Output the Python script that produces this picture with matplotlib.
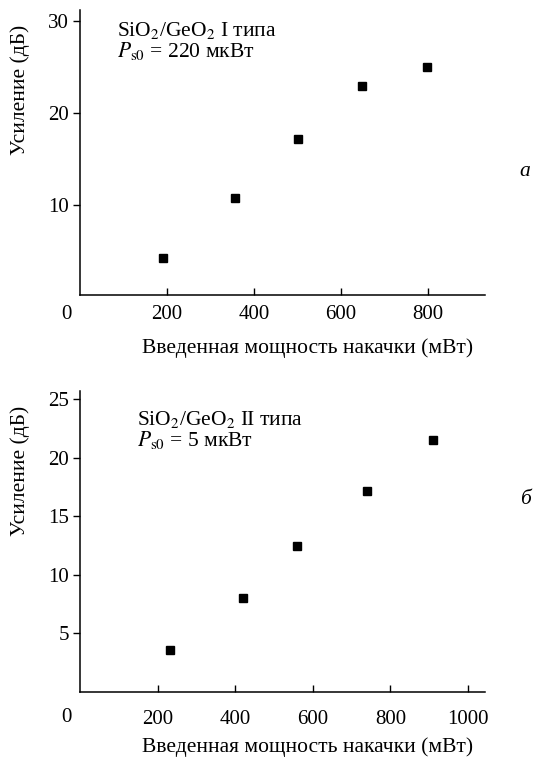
import matplotlib
matplotlib.use("Agg")
from matplotlib import pyplot as plt

plt.rcParams['font.family'] = ['Liberation Serif', 'DejaVu Serif']
plt.rcParams['mathtext.fontset'] = 'stix'

# panel a
pump_a = [190, 357, 500, 648, 798]
gain_a = [4.2, 10.7, 17.2, 22.9, 25.0]
xticks_a = [200, 400, 600, 800]
yticks_a = [10, 20, 30]

# panel b
pump_b = [231, 420, 560, 740, 911]
gain_b = [3.6, 8.0, 12.5, 17.2, 21.5]
xticks_b = [200, 400, 600, 800, 1000]
yticks_b = [5, 10, 15, 20, 25]

xlabel = "Введенная мощность накачки (мВт)"
ylabel = "Усиление (дБ)"

W, H = 542, 758
fig = plt.figure(figsize=(W / 100, H / 100), dpi=100)


def panel(rect, x, y, xt, yt, xlim, ylim, note, note_xy, letter, letter_y,
          zero_y, xlab_y, ylab_y, xpad):
    ax = fig.add_axes(rect)
    ax.plot(x, y, 's', color='black', ms=6)
    ax.set_xlim(*xlim)
    ax.set_ylim(*ylim)
    ax.set_xticks(xt)
    ax.set_yticks(yt)
    for s in ['top', 'right']:
        ax.spines[s].set_visible(False)
    for s in ['left', 'bottom']:
        ax.spines[s].set_linewidth(1.1)
    ax.tick_params(axis='x', direction='in', length=5, width=1, labelsize=15, pad=xpad)
    ax.tick_params(axis='y', direction='out', length=5, width=1, labelsize=15, pad=3)
    fig.text(20 / W, 1 - ylab_y / H, ylabel, fontsize=15.5, rotation=90,
             ha='center', va='center')
    fig.text(308 / W, 1 - xlab_y / H, xlabel, fontsize=15.5, ha='center', va='center')
    fig.text(note_xy[0] / W, 1 - note_xy[1] / H, note, fontsize=15.5,
             va='top', ha='left', linespacing=0.95)
    fig.text(525 / W, 1 - letter_y / H, letter, fontsize=15.5, style='italic',
             ha='center', va='center')
    fig.text(66 / W, 1 - zero_y / H, "0", fontsize=15, ha='center', va='center')
    return ax


panel([80 / W, 1 - 295 / H, 405 / W, 285 / H], pump_a, gain_a, xticks_a, yticks_a,
      (0, 931), (0.2, 31.2),
      "SiO$_2$/GeO$_2$ I типа\n$P_{\\rm s0}$ = 220 мкВт", (117, 20), "а", 172,
      315, 348, 90, 7)

panel([80 / W, 1 - 692 / H, 405 / W, 301 / H], pump_b, gain_b, xticks_b, yticks_b,
      (0, 1044), (0, 25.7),
      "SiO$_2$/GeO$_2$ II типа\n$P_{\\rm s0}$ = 5 мкВт", (137, 409), "б", 499,
      718, 747, 471, 13)

fig.savefig("out.png", dpi=100)
